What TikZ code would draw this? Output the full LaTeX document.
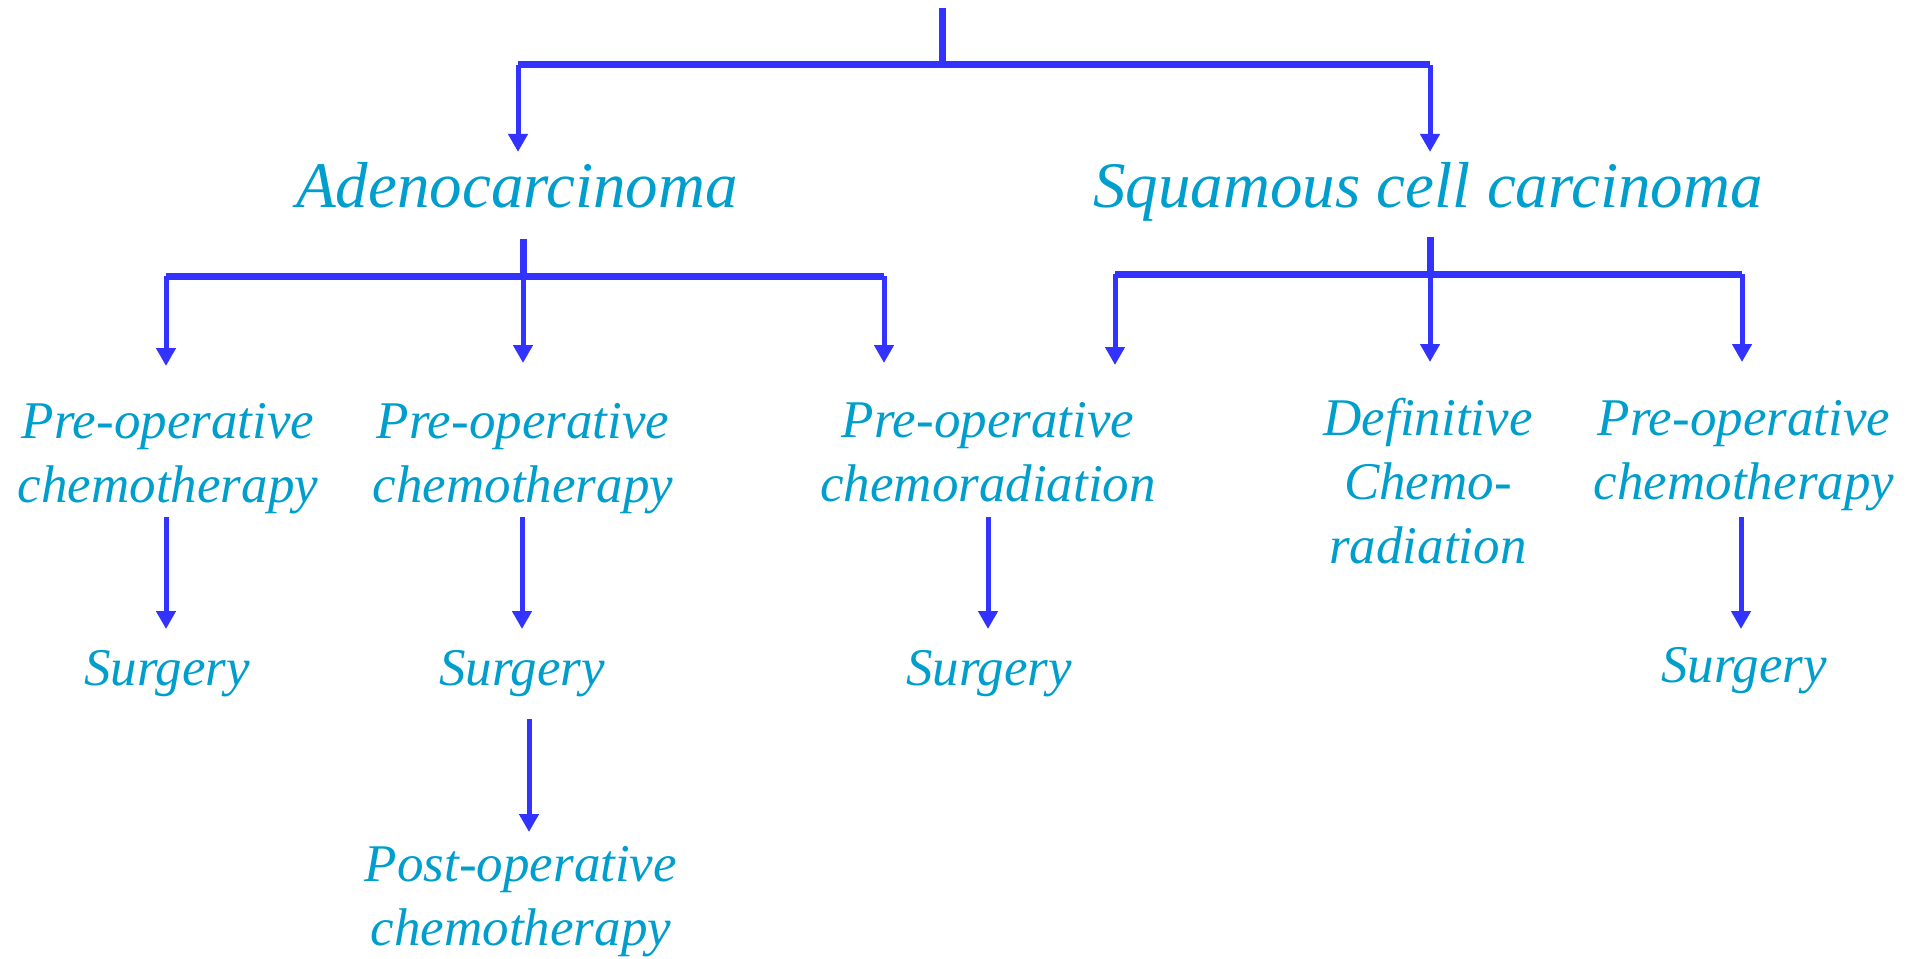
\documentclass[tikz,border=0pt]{standalone}
\usepackage{fontspec}
\setmainfont{Liberation Serif}
\usetikzlibrary{arrows.meta}
\definecolor{txtc}{RGB}{0,158,204}
\definecolor{linec}{RGB}{51,51,255}
\tikzset{
  bar/.style={draw=linec, line width=7pt},
  arr/.style={draw=linec, line width=5pt, -{Triangle[length=18pt,width=19pt]}},
  big/.style={text=txtc, inner sep=0pt, outer sep=0pt, anchor=base, font=\fontsize{65}{78}\selectfont\itshape},
  small/.style={text=txtc, inner sep=0pt, outer sep=0pt, anchor=base, align=center, font=\fontsize{53}{64}\selectfont\itshape},
}
\begin{document}
\begin{tikzpicture}[x=1pt,y=-1pt]
\useasboundingbox (0,0) rectangle (1921,958);
% level 1
\coordinate (top) at (942,8);
\coordinate (j0) at (942,65);
\coordinate (b0L) at (518,65);
\coordinate (b0R) at (1430,65);
\node[big] (adeno) at (517,207) {Adenocarcinoma};
\node[big] (squam) at (1428,207) {Squamous cell carcinoma};
\draw[bar] (top) -- (j0);
\draw[bar] (b0L) -- (b0R);
\draw[arr] (b0L) -- ([yshift=10pt]b0L |- adeno.north);
\draw[arr] (b0R) -- ([yshift=10pt]b0R |- squam.north);
% level 2 nodes (base = baseline of last line)
\node[small] (pc1) at (168,502) {Pre-operative\\chemotherapy};
\node[small] (pc2) at (523,502) {Pre-operative\\chemotherapy};
\node[small] (pcr) at (988,501) {Pre-operative\\chemoradiation};
\node[small] (def) at (1428,563) {Definitive\\Chemo-\\radiation};
\node[small] (pc3) at (1744,499) {Pre-operative\\chemotherapy};
% adeno branches
\coordinate (aS) at (523,239);
\coordinate (aJ) at (523,276);
\coordinate (aL) at (166,276);
\coordinate (aR) at (884,276);
\draw[bar] (aS) -- (aJ);
\draw[bar] (aL) -- (aR);
\coordinate (aLt) at (166,366);
\coordinate (aMt) at (523,363);
\coordinate (aRt) at (884,363);
\draw[arr] (aL) -- (aLt);
\draw[arr] (aJ) -- (aMt);
\draw[arr] (aR) -- (aRt);
% squamous branches
\coordinate (sS) at (1430,237);
\coordinate (sJ) at (1430,274);
\coordinate (sL) at (1115,274);
\coordinate (sR) at (1742,274);
\draw[bar] (sS) -- (sJ);
\draw[bar] (sL) -- (sR);
\coordinate (sLt) at (1115,365);
\coordinate (sMt) at (1430,362);
\coordinate (sRt) at (1742,362);
\draw[arr] (sL) -- (sLt);
\draw[arr] (sJ) -- (sMt);
\draw[arr] (sR) -- (sRt);
% level 3
\node[small] (su1) at (167,685) {Surgery};
\node[small] (su2) at (522,685) {Surgery};
\node[small] (su3) at (989,685) {Surgery};
\node[small] (su4) at (1744,682) {Surgery};
\node[small] (post) at (521,945) {Post-operative\\chemotherapy};
\coordinate (p1s) at (166,517);
\coordinate (p2s) at (522,517);
\coordinate (p3s) at (988,517);
\coordinate (p4s) at (1741,517);
\coordinate (p1t) at (166,629);
\coordinate (p2t) at (522,629);
\coordinate (p3t) at (988,629);
\coordinate (p4t) at (1741,629);
\draw[arr] (p1s) -- (p1t);
\draw[arr] (p2s) -- (p2t);
\draw[arr] (p3s) -- (p3t);
\draw[arr] (p4s) -- (p4t);
\coordinate (q2s) at (529,719);
\coordinate (q2t) at (529,832);
\draw[arr] (q2s) -- (q2t);
\end{tikzpicture}
\end{document}
